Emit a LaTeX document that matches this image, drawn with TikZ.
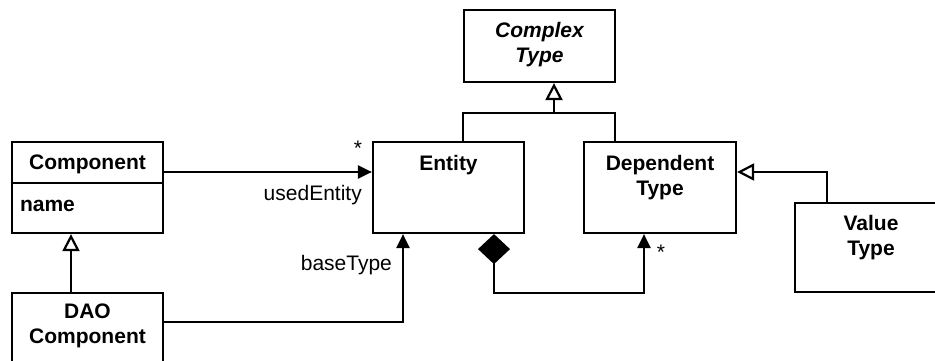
\documentclass[tikz,border=0pt]{standalone}
\usepackage{fontspec}
\setmainfont{Liberation Sans}
\usetikzlibrary{arrows.meta}
\begin{document}
\begin{tikzpicture}[x=1pt,y=-1pt,
  line width=2.2pt,
  cls/.style={draw, rectangle, inner sep=0pt, fill=white},
  title/.style={font=\fontsize{21}{25}\selectfont\bfseries, align=center, anchor=north, inner sep=0pt},
  lbl/.style={font=\fontsize{21}{25}\selectfont, inner sep=0pt},
  gen/.style={-{Triangle[open,length=17pt,width=17pt]}},
  nav/.style={-{Triangle[length=14pt,width=13pt]}},
  compo/.style={{Diamond[length=30pt,width=32pt]}-{Triangle[length=14pt,width=13pt]}},
]
\useasboundingbox[fill=white] (0,0) rectangle (935,361);

% classes
\node[cls, minimum width=151pt, minimum height=72pt] (complex) at (539.5,46) {};
\node[cls, minimum width=151pt, minimum height=91pt] (entity) at (448.5,187.5) {};
\node[cls, minimum width=152pt, minimum height=91pt] (dep) at (660,187.5) {};
\node[cls, minimum width=152pt, minimum height=89pt] (value) at (871,247.5) {};
\node[cls, minimum width=151pt, minimum height=91pt] (comp) at (87.5,187.5) {};
\node[cls, minimum width=151pt, minimum height=88pt] (dao) at (87.5,337) {};

% class names
\node[title, font=\fontsize{21}{25}\selectfont\bfseries\itshape] (complexT) at ([yshift=-12pt]complex.north) {Complex\\Type};
\node[title] (entityT) at ([yshift=-13pt]entity.north) {Entity};
\node[title] (depT) at ([yshift=-13pt]dep.north) {Dependent\\Type};
\node[title] (valueT) at ([yshift=-12pt]value.north) {Value\\Type};
\node[title] (compT) at ([yshift=-13pt]comp.north) {Component};
\node[title] (daoT) at ([yshift=-11pt]dao.north) {DAO\\Component};

% attribute compartment
\draw ([yshift=4.5pt]comp.west) -- ([yshift=4.5pt]comp.east);
\node[lbl, font=\fontsize{21}{25}\selectfont\bfseries, anchor=west] (attr) at ([xshift=8pt,yshift=-18.5pt]comp.west) {name};

% generalizations
\coordinate (join) at ([xshift=14.5pt,yshift=-30pt]complex.south);
\draw ([xshift=14.5pt]entity.north) |- (join) -| ([xshift=-45pt]dep.north);
\draw[gen] (join) -- ([xshift=14.5pt]complex.south);
\draw[gen] ([xshift=-44pt]value.north) |- ([yshift=15.5pt]dep.east);
\draw[gen] ([xshift=-16.5pt]dao.north) -- ([xshift=-16.5pt]comp.south);

% associations
\draw[nav] ([yshift=15.5pt]comp.east) -- ([yshift=15.5pt]entity.west);
\draw[nav] ([yshift=15pt]dao.east) -| ([xshift=-45.5pt]entity.south);
\draw[compo] ([xshift=45.5pt]entity.south) -- ++(0,59) -| ([xshift=-16pt]dep.south);

% role names and multiplicities
\node[lbl] (m1) at ([xshift=-14pt,yshift=-7pt]entity.north west) {*};
\node[lbl, anchor=east] (r1) at ([xshift=-9pt,yshift=-7.8pt]entity.west) {usedEntity};
\node[lbl, anchor=east] (r2) at ([xshift=-55.5pt,yshift=-31pt]entity.south) {baseType};
\node[lbl] (m2) at ([xshift=1pt,yshift=-18.5pt]dep.south) {*};
\end{tikzpicture}
\end{document}
